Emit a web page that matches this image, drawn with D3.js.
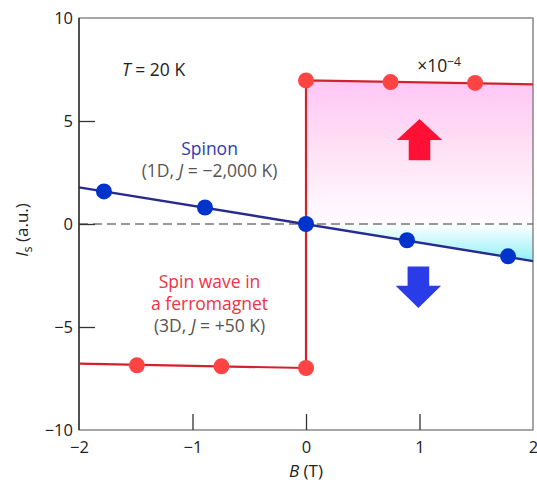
<!DOCTYPE html>
<html>
<head>
<meta charset="utf-8">
<script src="https://cdn.jsdelivr.net/npm/d3@7"></script>
<style>
body { margin: 0; background: #fff; }
text { font-family: "Open Sans", "Noto Sans", sans-serif; }
</style>
</head>
<body>
<div id="graph"></div>
<script>
// data
var spinonB = [-1.78, -0.89, 0, 0.89, 1.78];
var spinonI = [1.58, 0.80, 0, -0.79, -1.57];
var spinonLineB = [-2, 2];
var spinonLineI = [1.78, -1.8];

var ferroB = [-1.49, -0.745, 0, 0, 0.745, 1.49];
var ferroI = [-6.86, -6.91, -6.99, 6.97, 6.89, 6.85];
var ferroLineB = [-2, 0, 0, 2];
var ferroLineI = [-6.78, -6.99, 6.97, 6.78];

var xTicks = [-2, -1, 0, 1, 2];
var yTicks = [-10, -5, 0, 5, 10];

var margin = {top: 18, right: 4, bottom: 53, left: 79},
    width = 537 - margin.left - margin.right,
    height = 483 - margin.top - margin.bottom;

var x = d3.scaleLinear().domain([-2, 2]).range([0, width]);
var y = d3.scaleLinear().domain([-10, 10]).range([height, 0]);

var svg = d3.select("#graph")
    .append("svg")
        .attr("width", 537)
        .attr("height", 483)
    .append("g")
        .attr("transform", "translate(" + margin.left + "," + margin.top + ")");

var defs = svg.append("defs");
var pink = defs.append("linearGradient").attr("id", "pink")
    .attr("x1", 0).attr("y1", 0).attr("x2", 0).attr("y2", 1);
pink.append("stop").attr("offset", "0%").attr("stop-color", "#ffc6f6");
pink.append("stop").attr("offset", "45%").attr("stop-color", "#ffdff5");
pink.append("stop").attr("offset", "100%").attr("stop-color", "#fffcff");
var cyan = defs.append("linearGradient").attr("id", "cyan")
    .attr("x1", 0).attr("y1", 0).attr("x2", 0).attr("y2", 1);
cyan.append("stop").attr("offset", "0%").attr("stop-color", "#ffffff");
cyan.append("stop").attr("offset", "100%").attr("stop-color", "#8ff0f8");

// shaded regions for B > 0
var upper = ferroLineB.map(function(b, i) { return [b, ferroLineI[i]]; }).slice(2);
svg.append("path")
    .attr("d", d3.line().x(function(d) { return x(d[0]); }).y(function(d) { return y(d[1]); })
        (upper.concat([[2, 0], [0, 0]])))
    .style("fill", "url(#pink)");

svg.append("path")
    .attr("d", d3.line().x(function(d) { return x(d[0]); }).y(function(d) { return y(d[1]); })
        ([[0, 0], [2, 0], [2, spinonLineI[1]]]))
    .style("fill", "url(#cyan)");

// zero line
svg.append("line")
    .attr("x1", 0).attr("x2", width)
    .attr("y1", y(0)).attr("y2", y(0))
    .style("stroke", "#777")
    .style("stroke-width", 1.6)
    .style("stroke-dasharray", "9,5");

// frame
svg.append("rect")
    .attr("width", width)
    .attr("height", height)
    .style("fill", "none")
    .style("stroke", "#777")
    .style("stroke-width", 1.3);
svg.append("line")
    .attr("x1", 0).attr("x2", 0).attr("y1", 0).attr("y2", height)
    .style("stroke", "#222").style("stroke-width", 1.3);

// axes with inward ticks
var xAxis = svg.append("g")
    .attr("transform", "translate(0," + height + ")")
    .call(d3.axisBottom(x).tickValues(xTicks).tickSize(-16).tickPadding(24)
        .tickFormat(function(d) { return d3.format("")(d).replace("-", "\u2212"); }));
var yAxis = svg.append("g")
    .call(d3.axisLeft(y).tickValues(yTicks).tickSize(-16).tickPadding(22)
        .tickFormat(function(d) { return d3.format("")(d).replace("-", "\u2212"); }));

[xAxis, yAxis].forEach(function(a) {
    a.select(".domain").remove();
    a.selectAll("text").style("font-size", "16.5px").style("fill", "#222")
        .style("font-family", "'Open Sans', sans-serif");
    a.selectAll(".tick line").style("stroke", "#333").style("stroke-width", 1.3);
});
xAxis.selectAll(".tick").filter(function(d) { return d === -2 || d === 2; }).select("line").remove();
yAxis.selectAll(".tick").filter(function(d) { return d === -10 || d === 10; }).select("line").remove();
yAxis.selectAll("text").attr("x", -6);
xAxis.selectAll("text").attr("y", 11);

// ferromagnet line
svg.append("path")
    .attr("d", d3.line().x(function(d) { return x(d); }).y(function(d, i) { return y(ferroLineI[i]); })(ferroLineB))
    .style("fill", "none")
    .style("stroke", "#d0232a")
    .style("stroke-width", 2.2);

// spinon line
svg.append("path")
    .attr("d", d3.line().x(function(d) { return x(d); }).y(function(d, i) { return y(spinonLineI[i]); })(spinonLineB))
    .style("fill", "none")
    .style("stroke", "#272a8e")
    .style("stroke-width", 2.4);

svg.selectAll(".fdot")
    .data(ferroB)
    .enter().append("circle")
    .attr("class", "fdot")
    .attr("cx", function(d) { return x(d); })
    .attr("cy", function(d, i) { return y(ferroI[i]); })
    .attr("r", 8)
    .style("fill", "#ff4444");

svg.selectAll(".sdot")
    .data(spinonB)
    .enter().append("circle")
    .attr("class", "sdot")
    .attr("cx", function(d) { return x(d); })
    .attr("cy", function(d, i) { return y(spinonI[i]); })
    .attr("r", 8)
    .style("fill", "#0033cc");

// arrows (in data units)
function arrow(cx, tip, base, end, color) {
    var hw = 0.2, sw = 0.095;
    var pts = [[cx, tip], [cx + hw, base], [cx + sw, base], [cx + sw, end],
               [cx - sw, end], [cx - sw, base], [cx - hw, base]];
    svg.append("path")
        .attr("d", d3.line().x(function(d) { return x(d[0]); }).y(function(d) { return y(d[1]); })(pts) + "Z")
        .style("fill", color);
}
arrow(1.0, 5.1, 4.08, 3.1, "#ff1034");
arrow(0.99, -4.08, -3.0, -2.06, "#2a3ce8");

// labels
function label(txt, px, py, color, anchor) {
    return svg.append("text")
        .attr("x", px).attr("y", py)
        .attr("text-anchor", anchor || "middle")
        .style("font-size", "17.5px")
        .style("fill", color)
        .text(txt);
}
var t = label("", 43, 58, "#222", "start");
t.append("tspan").style("font-style", "italic").text("T");
t.append("tspan").text(" = 20 K");

label("Spinon", x(-0.85), 137, "#2e3ab0");
var s2 = label("", x(-0.85), 159, "#555");
s2.append("tspan").text("(1D, ");
s2.append("tspan").style("font-style", "italic").text("J");
s2.append("tspan").text(" = \u22122,000 K)");

label("Spin wave in", x(-0.85), 270, "#ee3344");
label("a ferromagnet", x(-0.85), 292, "#ee3344");
var f3 = label("", x(-0.85), 314, "#555");
f3.append("tspan").text("(3D, ");
f3.append("tspan").style("font-style", "italic").text("J");
f3.append("tspan").text(" = +50 K)");

var m = label("\u00d710", x(0.98), 54, "#222", "start");
m.append("tspan").attr("dy", -6).style("font-size", "12px").text("\u22124");

// axis titles
var xl = svg.append("text")
    .attr("x", x(0)).attr("y", height + 47)
    .attr("text-anchor", "middle")
    .style("font-size", "17px").style("fill", "#222");
xl.append("tspan").style("font-style", "italic").text("B");
xl.append("tspan").text(" (T)");

var yl = svg.append("text")
    .attr("transform", "translate(" + (-51) + "," + (y(0) + 6) + ") rotate(-90)")
    .attr("text-anchor", "middle")
    .style("font-size", "17px").style("fill", "#222");
yl.append("tspan").style("font-style", "italic").text("I");
yl.append("tspan").attr("dy", 4).style("font-size", "12px").text("s");
yl.append("tspan").attr("dy", -4).text(" (a.u.)");
</script>
</body>
</html>
